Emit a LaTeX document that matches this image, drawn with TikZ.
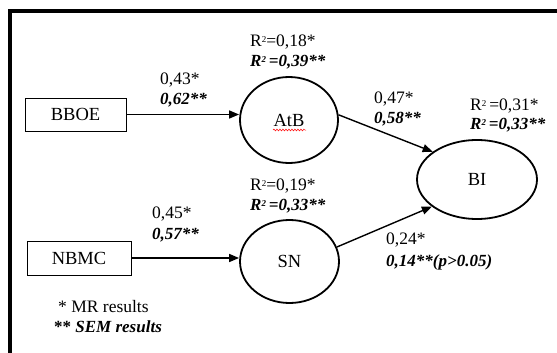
\documentclass[tikz,border=0pt]{standalone}
\usepackage{fontspec}
\setmainfont{Liberation Serif}
\usetikzlibrary{arrows.meta,decorations.pathmorphing,shapes.geometric}
\newcommand{\sqtwo}{\raisebox{0.55ex}{\fontsize{9}{9}\selectfont 2}}
\begin{document}
\begin{tikzpicture}[x=1pt,y=-1pt,
  construct/.style={draw,line width=1.8pt,ellipse,inner sep=0pt,font=\fontsize{18.5}{20}\selectfont},
  observed/.style={draw,line width=0.8pt,rectangle,inner sep=0pt,font=\fontsize{18.5}{20}\selectfont},
  lbl/.style={anchor=west,inner sep=0pt,font=\fontsize{17.5}{20}\selectfont},
  sem/.style={lbl,font=\fontsize{17}{20}\selectfont\bfseries\itshape},
  path/.style={line width=1.4pt,-{Triangle[length=10pt,width=8pt]}}]
\useasboundingbox (0,0) rectangle (557,353);
% frame (top and left edges)
\draw[line width=3.5pt] (10,360) -- (10,11) -- (565,11);

% observed variables
\node[observed,minimum width=101pt,minimum height=33pt] (bboe) at (75.5,114.5) {BBOE};
\node[observed,minimum width=104pt,minimum height=34pt] (nbmc) at (79,258) {NBMC};

% latent constructs
\node[construct,minimum width=98pt,minimum height=86pt] (atb) at (289,120) {AtB};
\node[construct,minimum width=99pt,minimum height=83pt] (sn) at (289.5,261.5) {SN};
\node[construct,minimum width=120pt,minimum height=79pt] (bi) at (477,179.5) {BI};

% spell-check squiggle under AtB
\draw[red,line width=0.5pt,decorate,decoration={snake,amplitude=0.9pt,segment length=3pt}]
  ([xshift=-16pt,yshift=-10pt]atb.center) -- ([xshift=17pt,yshift=-10pt]atb.center);

% paths
\draw[path] (bboe.east) -- (bboe.east -| atb.west);
\draw[path] (nbmc.east) -- (nbmc.east -| sn.west);
\draw[path] (atb.6) -- (bi.148);
\draw[path] (sn.17) -- (bi.211);

% coefficients
\node[lbl] (c1a) at (160,80) {0,43*};
\node[sem] (c1b) at (160,100) {0,62**};
\node[lbl] (c2a) at (152,214) {0,45*};
\node[sem] (c2b) at (152,235) {0,57**};
\node[lbl] (c3a) at (374,99) {0,47*};
\node[sem] (c3b) at (374,119) {0,58**};
\node[lbl] (c4a) at (386,240) {0,24*};
\node[sem] (c4b) at (386,262) {0,14**(p>0.05)};

% explained variance
\node[lbl] (r1a) at (250,42) {R\sqtwo=0,18*};
\node[sem] (r1b) at (250,62) {R\sqtwo\,=0,39**};
\node[lbl] (r2a) at (250,186) {R\sqtwo=0,19*};
\node[sem] (r2b) at (250,206) {R\sqtwo\,=0,33**};
\node[lbl] (r3a) at (470,106) {R\sqtwo\,=0,31*};
\node[sem] (r3b) at (470,125) {R\sqtwo\,=0,33**};

% legend
\node[lbl] (leg1) at (58,307) {* MR results};
\node[sem] (leg2) at (54,327) {\upshape\bfseries ** \itshape SEM results};
\end{tikzpicture}
\end{document}
